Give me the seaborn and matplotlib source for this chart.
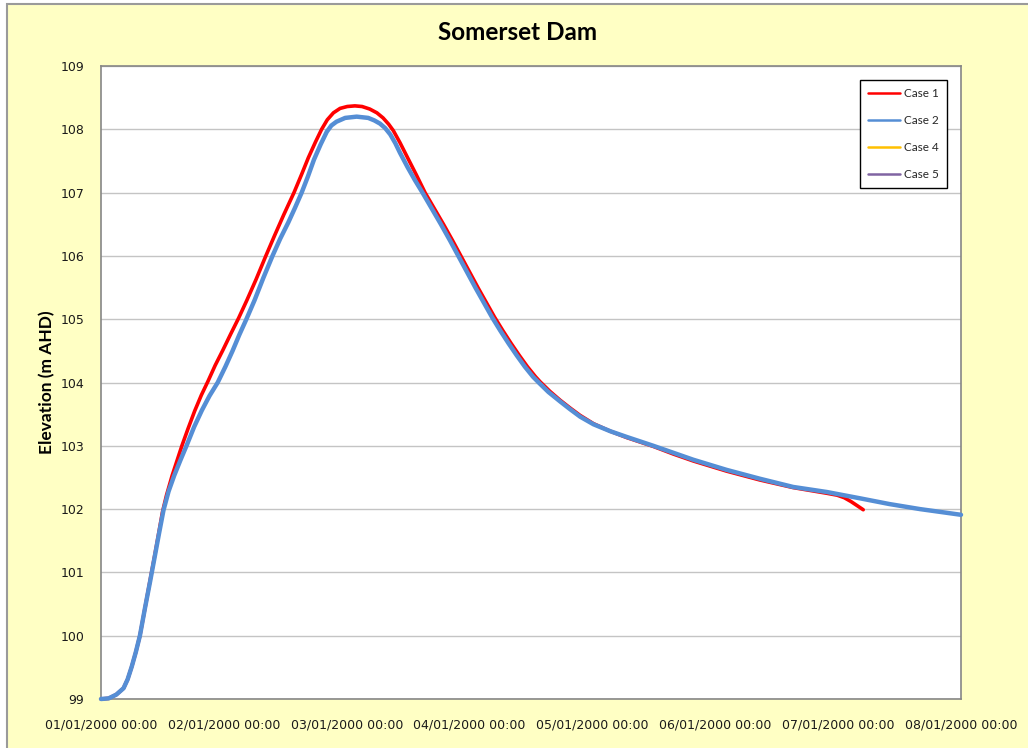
import matplotlib
matplotlib.use("Agg")
import matplotlib.pyplot as plt
import matplotlib.dates as mdates
from matplotlib.lines import Line2D
from matplotlib.patches import Rectangle
import numpy as np
import pandas as pd
import seaborn as sns

# Somerset Dam reservoir level: hours after 01/01/2000 00:00 and elevation (m AHD)
case1_hours = [0, 1.5, 3.0, 4.4, 5.2, 6.0, 6.8, 7.6, 8.6, 9.6, 10.5, 11.3, 12.0,
               12.8, 13.9, 15.8, 17.0, 18.3, 19.6, 20.9, 22.3, 23.8, 25.3, 26.9,
               28.5, 30.3, 32.2, 33.9, 35.7, 37.7, 39.2, 40.5, 41.9, 43.1, 44.2,
               45.4, 46.7, 48.1, 49.6, 51.0, 52.5, 53.9, 55.1, 56.2, 57.1, 58.4,
               59.9, 61.6, 63.3, 65.1, 66.9, 68.7, 70.5, 72.1, 73.7, 75.3, 76.9,
               78.5, 80.1, 81.7, 83.3, 84.9, 85.8, 87.7, 89.7, 91.6, 93.6, 96.2,
               99.5, 102.7, 107.9, 111.8, 115.7, 122.2, 128.7, 135.2, 141.8, 143.8,
               145.2, 146.5, 147.8, 148.9]
case1_elev = [99.00, 99.01, 99.07, 99.17, 99.31, 99.51, 99.74, 100.00, 100.44,
              100.88, 101.27, 101.63, 101.95, 102.22, 102.53, 103.00, 103.27,
              103.55, 103.80, 104.02, 104.27, 104.51, 104.76, 105.02, 105.30,
              105.63, 106.00, 106.32, 106.65, 107.00, 107.29, 107.55, 107.80,
              108.00, 108.15, 108.26, 108.33, 108.36, 108.37, 108.36, 108.32,
              108.26, 108.18, 108.08, 107.98, 107.79, 107.55, 107.28, 107.00,
              106.75, 106.50, 106.24, 105.97, 105.73, 105.49, 105.26, 105.03,
              104.82, 104.62, 104.43, 104.25, 104.09, 104.01, 103.86, 103.72,
              103.60, 103.48, 103.35, 103.23, 103.13, 102.99, 102.87, 102.76,
              102.60, 102.46, 102.34, 102.25, 102.22, 102.18, 102.12, 102.05,
              101.99]

case2_hours = [0, 1.5, 3.0, 4.4, 5.2, 6.0, 6.8, 7.6, 8.6, 9.6, 10.5, 11.3, 12.2,
               13.2, 14.3, 15.5, 16.7, 18.2, 19.7, 21.2, 22.8, 24.3, 25.7, 27.0,
               28.4, 30.0, 31.7, 33.5, 35.0, 36.6, 37.9, 39.2, 40.4, 41.6, 42.9,
               44.1, 45.0, 46.0, 47.7, 49.95, 52.2, 53.4, 54.5, 55.5, 56.5, 57.5,
               58.4, 59.9, 61.3, 62.8, 64.6, 66.4, 68.2, 70.0, 71.6, 73.2, 74.8,
               76.4, 78.0, 79.6, 81.2, 82.8, 84.4, 85.5, 87.4, 89.7, 91.6, 93.6,
               96.2, 99.5, 102.7, 107.9, 111.8, 115.7, 122.2, 128.7, 135.2, 141.8,
               148.3, 154.0, 160.0, 168.0]
case2_elev = [99.00, 99.01, 99.07, 99.17, 99.31, 99.51, 99.74, 100.00, 100.44,
              100.86, 101.25, 101.60, 101.98, 102.28, 102.53, 102.77, 103.00,
              103.30, 103.56, 103.79, 104.00, 104.25, 104.50, 104.75, 105.00,
              105.30, 105.65, 106.00, 106.27, 106.53, 106.76, 107.00, 107.25,
              107.52, 107.76, 107.96, 108.06, 108.12, 108.18, 108.20, 108.18,
              108.14, 108.09, 108.02, 107.92, 107.78, 107.63, 107.40, 107.20,
              107.00, 106.75, 106.50, 106.24, 105.97, 105.73, 105.49, 105.26,
              105.03, 104.82, 104.62, 104.43, 104.25, 104.09, 104.00, 103.85,
              103.70, 103.58, 103.46, 103.34, 103.23, 103.14, 103.00, 102.89,
              102.78, 102.62, 102.48, 102.35, 102.27, 102.17, 102.08, 102.00,
              101.91]

# Cases 4 and 5 carry no results in this run
case4_hours, case4_elev = [], []
case5_hours, case5_elev = [], []

case_names = ["Case 1", "Case 2", "Case 4", "Case 5"]
day_ticks = pd.date_range("2000-01-01", "2000-01-08", freq="D")
y_ticks = list(range(99, 110))

colors = {"Case 1": "#FF0000", "Case 2": "#558ED5",
          "Case 4": "#FFC000", "Case 5": "#8064A2"}
widths = {"Case 1": 2.6, "Case 2": 3.2, "Case 4": 2.0, "Case 5": 2.0}

start = pd.Timestamp("2000-01-01 00:00")
frames = []
for name, hrs, elev in [("Case 1", case1_hours, case1_elev),
                        ("Case 2", case2_hours, case2_elev),
                        ("Case 4", case4_hours, case4_elev),
                        ("Case 5", case5_hours, case5_elev)]:
    frames.append(pd.DataFrame({
        "time": start + pd.to_timedelta(np.asarray(hrs, dtype=float), unit="h"),
        "elev": np.asarray(elev, dtype=float),
        "case": name,
    }))
df = pd.concat(frames, ignore_index=True)

sns.set_theme(style="white")
plt.rcParams["font.family"] = ["DejaVu Sans"]

fig = plt.figure(figsize=(10.28, 7.48), dpi=100, facecolor="white")
# chart area panel with its grey top/left edge, kept behind the axes
fig.patches.append(Rectangle((7 / 1028, -0.05), 1.2, (748 - 4) / 748 + 0.05,
                             transform=fig.transFigure, facecolor="#FFFFC4",
                             edgecolor="#9A9A9A", linewidth=1.5, zorder=-10))

ax = fig.add_axes([101 / 1028, 1 - 699 / 748, 860 / 1028, 633 / 748])
ax.set_facecolor("white")

for name in case_names:
    sub = df[df["case"] == name]
    if len(sub) == 0:
        continue
    sns.lineplot(data=sub, x="time", y="elev", ax=ax, color=colors[name],
                 linewidth=widths[name], sort=False, estimator=None,
                 legend=False, clip_on=False, zorder=3)

ax.set_xlim(day_ticks[0], day_ticks[-1])
ax.set_ylim(99, 109)
ax.set_xticks(day_ticks)
ax.xaxis.set_major_formatter(mdates.DateFormatter("%d/%m/%Y %H:%M"))
ax.set_yticks(y_ticks)
ax.yaxis.grid(True, color="#C4C4C4", linewidth=1.0)
ax.xaxis.grid(False)
ax.set_axisbelow(True)

for side in ["left", "bottom", "top", "right"]:
    ax.spines[side].set_visible(True)
    ax.spines[side].set_color("#868686")
    ax.spines[side].set_linewidth(1.2)

ax.tick_params(axis="both", which="major", direction="out", length=5, width=1,
               color="#868686", labelsize=9, labelcolor="#1A1A1A")
ax.tick_params(axis="x", pad=9)
ax.tick_params(axis="y", pad=7)
ax.set_xlabel("")
ax.set_ylabel("Elevation (m AHD)", fontsize=12.5, fontweight="bold",
              family=["Lato", "DejaVu Sans"], labelpad=4, color="black")

fig.text(518 / 1028, 1 - 32 / 748, "Somerset Dam", ha="center", va="center",
         fontsize=17.5, fontweight="bold", family=["Lato", "DejaVu Sans"],
         color="black")

handles = [Line2D([], [], color=colors[n], linewidth=1.8) for n in case_names]
leg = ax.legend(handles, case_names, loc="upper right",
                bbox_to_anchor=(947 / 1028, 1 - 80 / 748),
                bbox_transform=fig.transFigure, frameon=True, fancybox=False,
                framealpha=1, edgecolor="#000000", facecolor="white",
                prop={"family": ["Lato", "DejaVu Sans"], "size": 8.5},
                handlelength=2.7, handletextpad=0.3, labelspacing=1.35,
                borderpad=0.7, borderaxespad=0)
leg.get_frame().set_linewidth(1.0)

fig.savefig("out.png", dpi=100, facecolor=fig.get_facecolor())
